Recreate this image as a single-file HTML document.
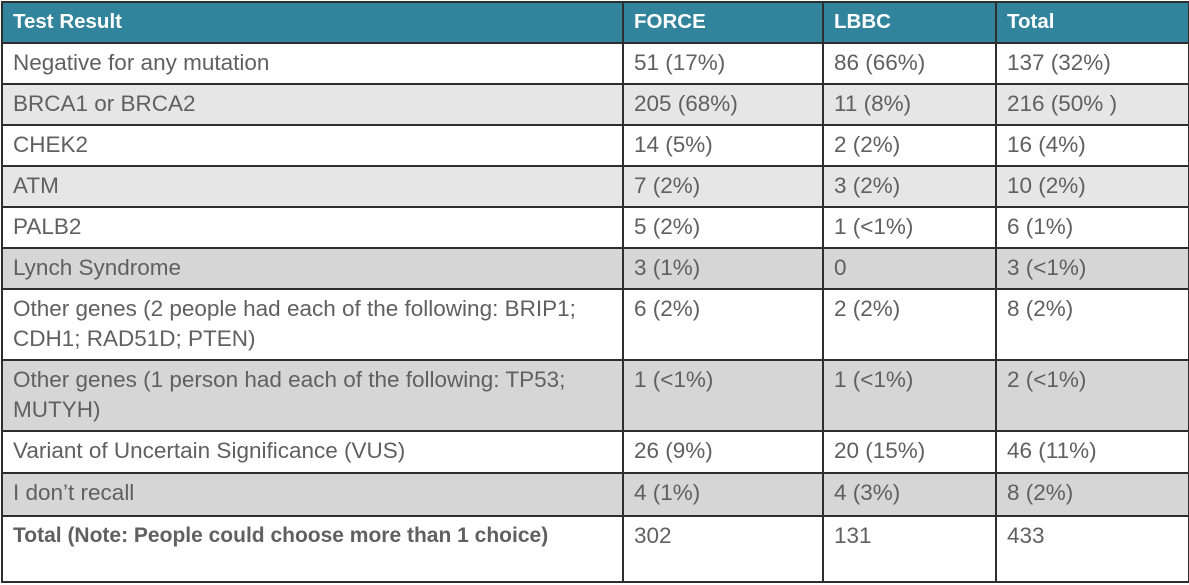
<!DOCTYPE html>
<html><head><meta charset="utf-8"><style>
body{margin:0;width:1189px;height:585px;background:#fff;overflow:hidden;font-family:"Liberation Sans",sans-serif;}
table{position:absolute;left:1px;top:1px;border-collapse:collapse;table-layout:fixed;width:1187px;}
td,th{border:2px solid #2e2e2e;padding:0 0 0 10px;vertical-align:top;font-size:22.5px;color:#606060;text-align:left;font-weight:normal;line-height:30px;padding-top:4px;box-sizing:border-box;white-space:nowrap;}
th{background:#31849b;color:#fff;font-weight:bold;padding-top:4px;font-size:20.5px;}
tr.l td{background:#e6e6e6;}
tr.d td{background:#d6d6d6;}
tr.t td:first-child{font-weight:bold;font-size:21px;}
</style></head><body>
<table>
<colgroup><col style="width:621px"><col style="width:200px"><col style="width:173px"><col style="width:193px"></colgroup>
<tr style="height:41px"><th>Test Result</th><th>FORCE</th><th>LBBC</th><th>Total</th></tr>
<tr style="height:41px"><td>Negative for any mutation</td><td>51 (17%)</td><td>86 (66%)</td><td>137 (32%)</td></tr>
<tr class="l" style="height:41px"><td>BRCA1 or BRCA2</td><td>205 (68%)</td><td>11 (8%)</td><td>216 (50% )</td></tr>
<tr style="height:41px"><td>CHEK2</td><td>14 (5%)</td><td>2 (2%)</td><td>16 (4%)</td></tr>
<tr class="l" style="height:41px"><td>ATM</td><td>7 (2%)</td><td>3 (2%)</td><td>10 (2%)</td></tr>
<tr style="height:41px"><td>PALB2</td><td>5 (2%)</td><td>1 (&lt;1%)</td><td>6 (1%)</td></tr>
<tr class="d" style="height:41px"><td>Lynch Syndrome</td><td>3 (1%)</td><td>0</td><td>3 (&lt;1%)</td></tr>
<tr style="height:71px"><td>Other genes (2 people had each of the following: BRIP1;<br>CDH1; RAD51D; PTEN)</td><td>6 (2%)</td><td>2 (2%)</td><td>8 (2%)</td></tr>
<tr class="d" style="height:71px"><td>Other genes (1 person had each of the following: TP53;<br>MUTYH)</td><td>1 (&lt;1%)</td><td>1 (&lt;1%)</td><td>2 (&lt;1%)</td></tr>
<tr style="height:42px"><td>Variant of Uncertain Significance (VUS)</td><td>26 (9%)</td><td>20 (15%)</td><td>46 (11%)</td></tr>
<tr class="d" style="height:43px"><td>I don’t recall</td><td>4 (1%)</td><td>4 (3%)</td><td>8 (2%)</td></tr>
<tr class="t" style="height:66px"><td>Total (Note: People could choose more than 1 choice)</td><td>302</td><td>131</td><td>433</td></tr>
</table>
</body></html>
